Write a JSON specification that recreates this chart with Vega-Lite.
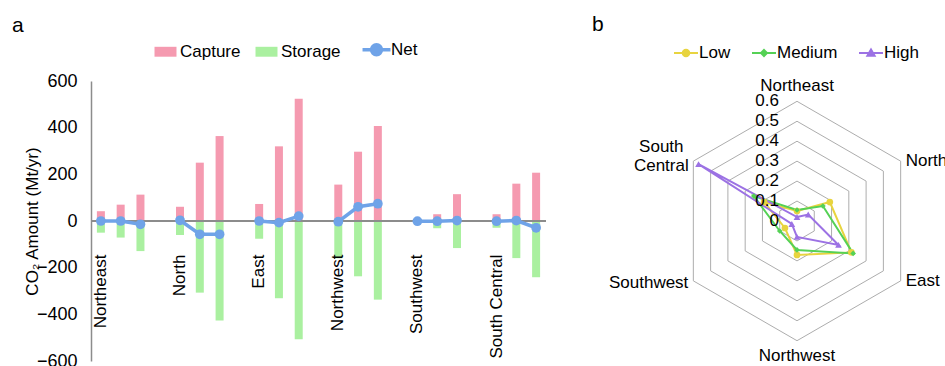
{
  "$schema": "https://vega.github.io/schema/vega-lite/v6.json",
  "background": "white",
  "padding": {"left": 12, "top": 14, "right": 0, "bottom": 0},
  "config": {
    "view": {"stroke": null},
    "font": "Liberation Sans",
    "title": {"font": "Liberation Sans", "fontWeight": "normal", "color": "#000"}
  },
  "datasets": {
    "bars": [
      {"region": "Northeast", "scenario": "Low", "Capture": 42, "Storage": -50, "Net": 0},
      {"region": "Northeast", "scenario": "Medium", "Capture": 70, "Storage": -71, "Net": 0},
      {"region": "Northeast", "scenario": "High", "Capture": 113, "Storage": -129, "Net": -14},
      {"region": "North", "scenario": "Low", "Capture": 61, "Storage": -60, "Net": 3},
      {"region": "North", "scenario": "Medium", "Capture": 250, "Storage": -307, "Net": -57},
      {"region": "North", "scenario": "High", "Capture": 364, "Storage": -426, "Net": -57},
      {"region": "East", "scenario": "Low", "Capture": 73, "Storage": -76, "Net": 0},
      {"region": "East", "scenario": "Medium", "Capture": 320, "Storage": -331, "Net": -7},
      {"region": "East", "scenario": "High", "Capture": 524, "Storage": -507, "Net": 21},
      {"region": "Northwest", "scenario": "Low", "Capture": 156, "Storage": -160, "Net": -3},
      {"region": "Northwest", "scenario": "Medium", "Capture": 297, "Storage": -237, "Net": 61},
      {"region": "Northwest", "scenario": "High", "Capture": 407, "Storage": -337, "Net": 74},
      {"region": "Southwest", "scenario": "Low", "Capture": 0, "Storage": 0, "Net": -1},
      {"region": "Southwest", "scenario": "Medium", "Capture": 29, "Storage": -31, "Net": -1},
      {"region": "Southwest", "scenario": "High", "Capture": 115, "Storage": -116, "Net": 2},
      {"region": "South Central", "scenario": "Low", "Capture": 29, "Storage": -29, "Net": -1},
      {"region": "South Central", "scenario": "Medium", "Capture": 160, "Storage": -159, "Net": 2},
      {"region": "South Central", "scenario": "High", "Capture": 207, "Storage": -241, "Net": -29}
    ],
    "radar": [
      {"region": "Northeast", "scenario": "Low", "share": 0.05},
      {"region": "North", "scenario": "Low", "share": 0.19},
      {"region": "East", "scenario": "Low", "share": 0.315},
      {"region": "Northwest", "scenario": "Low", "share": 0.17},
      {"region": "Southwest", "scenario": "Low", "share": 0.07},
      {"region": "South Central", "scenario": "Low", "share": 0.19},
      {"region": "Northeast", "scenario": "Medium", "share": 0.055},
      {"region": "North", "scenario": "Medium", "share": 0.15},
      {"region": "East", "scenario": "Medium", "share": 0.325},
      {"region": "Northwest", "scenario": "Medium", "share": 0.145},
      {"region": "Southwest", "scenario": "Medium", "share": 0.1},
      {"region": "South Central", "scenario": "Medium", "share": 0.25},
      {"region": "Northeast", "scenario": "High", "share": 0.02},
      {"region": "North", "scenario": "High", "share": 0.065},
      {"region": "East", "scenario": "High", "share": 0.24},
      {"region": "Northwest", "scenario": "High", "share": 0.08},
      {"region": "Southwest", "scenario": "High", "share": 0.03},
      {"region": "South Central", "scenario": "High", "share": 0.57}
    ],
    "dirs": [
      {"region": "Northeast", "levels": [0.1, 0.2, 0.3, 0.4, 0.5, 0.6]},
      {"region": "North", "levels": [0.1, 0.2, 0.3, 0.4, 0.5, 0.6]},
      {"region": "East", "levels": [0.1, 0.2, 0.3, 0.4, 0.5, 0.6]},
      {"region": "Northwest", "levels": [0.1, 0.2, 0.3, 0.4, 0.5, 0.6]},
      {"region": "Southwest", "levels": [0.1, 0.2, 0.3, 0.4, 0.5, 0.6]},
      {"region": "South Central", "levels": [0.1, 0.2, 0.3, 0.4, 0.5, 0.6]}
    ],
    "rticks": [{"v": 0}, {"v": 0.1}, {"v": 0.2}, {"v": 0.3}, {"v": 0.4}, {"v": 0.5}, {"v": 0.6}]
  },
  "spacing": 45,
  "resolve": {"scale": {"color": "independent", "x": "independent", "y": "independent"}, "legend": {"color": "independent"}},
  "hconcat": [
    {
      "width": 455,
      "height": 280,
      "title": {"text": "a", "anchor": "start", "frame": "group", "fontSize": 21, "dx": -79, "dy": 1, "offset": 6},
      "data": {"name": "bars"},
      "layer": [
        {
          "transform": [{"fold": ["Capture", "Storage"], "as": ["series", "value"]}],
          "mark": {"type": "bar", "width": 8},
          "encoding": {
            "x": {"field": "region", "type": "nominal", "sort": null, "scale": {"domain": ["Northeast", "North", "East", "Northwest", "Southwest", "South Central"], "paddingInner": 0.25, "paddingOuter": 0}, "axis": null},
            "xOffset": {"field": "scenario", "type": "nominal", "scale": {"domain": ["Low", "Medium", "High"], "paddingInner": 0, "paddingOuter": 0}},
            "y": {"field": "value", "type": "quantitative", "stack": null, "scale": {"domain": [-600, 600], "nice": false},
              "axis": {"values": [-600, -400, -200, 0, 200, 400, 600], "ticks": false, "grid": false, "domainColor": "#8c8c8c", "domainWidth": 1.5, "labelFontSize": 18, "labelColor": "#000", "labelPadding": 14, "title": "CO₂ Amount (Mt/yr)", "titleFontSize": 17, "titleFontWeight": "normal", "titleColor": "#000", "titlePadding": -5}},
            "color": {"field": "series", "type": "nominal", "scale": {"domain": ["Capture", "Storage", "Net"], "range": ["#F59AB0", "#AAF0A0", "#6FA3E8"]},
              "legend": {"orient": "none", "legendX": 66, "legendY": -40, "direction": "horizontal", "title": null, "labelFontSize": 17, "labelColor": "#000", "symbolSize": 484, "labelOffset": 6, "columnPadding": 14, "padding": 0,
                "encode": {"symbols": {"update": {
                  "shape": {"signal": "datum.value === 'Net' ? 'M-1.27,0H1.27M0.45,0A0.45,0.45,0,1,1,-0.45,0A0.45,0.45,0,1,1,0.45,0' : 'M-1,-0.45H1V0.45H-1Z'"},
                  "fill": {"signal": "datum.value === 'Net' ? '#6FA3E8' : datum.value === 'Capture' ? '#F59AB0' : '#AAF0A0'"},
                  "stroke": {"signal": "datum.value === 'Net' ? '#6FA3E8' : 'transparent'"},
                  "strokeWidth": {"signal": "datum.value === 'Net' ? 3.5 : 0"},
                  "opacity": {"value": 1}
                }}}}}
          }
        },
        {
          "mark": {"type": "rule", "color": "#8c8c8c", "strokeWidth": 1.5},
          "encoding": {"y": {"datum": 0, "type": "quantitative", "scale": {"domain": [-600, 600], "nice": false}}}
        },
        {
          "mark": {"type": "line", "strokeWidth": 3.5, "color": "#6FA3E8", "point": {"filled": true, "size": 95, "color": "#6FA3E8"}},
          "encoding": {
            "x": {"field": "region", "type": "nominal", "sort": null, "scale": {"domain": ["Northeast", "North", "East", "Northwest", "Southwest", "South Central"], "paddingInner": 0.25, "paddingOuter": 0}, "axis": null},
            "xOffset": {"field": "scenario", "type": "nominal", "scale": {"domain": ["Low", "Medium", "High"], "paddingInner": 0, "paddingOuter": 0}},
            "y": {"field": "Net", "type": "quantitative", "scale": {"domain": [-600, 600], "nice": false}},
            "detail": {"field": "region"}
          }
        },
        {
          "transform": [{"filter": "datum.scenario === 'Low'"}],
          "mark": {"type": "text", "angle": 270, "align": "right", "baseline": "middle", "fontSize": 17, "color": "#000"},
          "encoding": {
            "x": {"field": "region", "type": "nominal", "sort": null, "scale": {"domain": ["Northeast", "North", "East", "Northwest", "Southwest", "South Central"], "paddingInner": 0.25, "paddingOuter": 0}, "axis": null},
            "xOffset": {"field": "scenario", "type": "nominal", "scale": {"domain": ["Low", "Medium", "High"], "paddingInner": 0, "paddingOuter": 0}},
            "y": {"datum": -144, "type": "quantitative", "scale": {"domain": [-600, 600], "nice": false}},
            "text": {"field": "region"}
          }
        }
      ]
    },
    {
      "width": 280,
      "height": 280,
      "title": {"text": "b", "anchor": "start", "frame": "group", "fontSize": 21, "dx": -65, "dy": 1, "offset": 6},
      "layer": [
        {
          "data": {"name": "dirs"},
          "transform": [
            {"flatten": ["levels"], "as": ["level"]},
            {"calculate": "indexof(['Northeast','North','East','Northwest','Southwest','South Central'], datum.region)", "as": "k"},
            {"calculate": "datum.level * sin(datum.k * PI / 3)", "as": "px"},
            {"calculate": "datum.level * cos(datum.k * PI / 3)", "as": "py"}
          ],
          "mark": {"type": "line", "interpolate": "linear-closed", "color": "#ADADAD", "strokeWidth": 1},
          "encoding": {
            "x": {"field": "px", "type": "quantitative", "scale": {"domain": [-0.7018, 0.7018], "nice": false, "zero": false}, "axis": null},
            "y": {"field": "py", "type": "quantitative", "scale": {"domain": [-0.7018, 0.7018], "nice": false, "zero": false}, "axis": null},
            "detail": {"field": "level"},
            "order": {"field": "k"}
          }
        },
        {
          "data": {"name": "radar"},
          "transform": [
            {"calculate": "indexof(['Northeast','North','East','Northwest','Southwest','South Central'], datum.region)", "as": "k"},
            {"calculate": "datum.share * sin(datum.k * PI / 3)", "as": "px"},
            {"calculate": "datum.share * cos(datum.k * PI / 3)", "as": "py"}
          ],
          "mark": {"type": "line", "interpolate": "linear-closed", "strokeWidth": 2},
          "encoding": {
            "x": {"field": "px", "type": "quantitative", "scale": {"domain": [-0.7018, 0.7018], "nice": false, "zero": false}, "axis": null},
            "y": {"field": "py", "type": "quantitative", "scale": {"domain": [-0.7018, 0.7018], "nice": false, "zero": false}, "axis": null},
            "order": {"field": "k"},
            "color": {"field": "scenario", "type": "nominal", "scale": {"domain": ["Low", "Medium", "High"], "range": ["#E8D43F", "#55D155", "#9C72E4"]},
              "legend": {"orient": "none", "legendX": 16, "legendY": -41, "direction": "horizontal", "title": null, "labelFontSize": 17, "labelColor": "#000", "symbolSize": 576, "labelOffset": 0, "columnPadding": 17, "padding": 0,
                "encode": {"symbols": {"update": {
                  "shape": {"signal": "datum.value === 'Low' ? 'M-1,0H1M0.27,0A0.27,0.27,0,1,1,-0.27,0A0.27,0.27,0,1,1,0.27,0' : datum.value === 'Medium' ? 'M-1,0H1M0,-0.25L0.25,0L0,0.25L-0.25,0Z' : 'M-1,0H1M0,-0.3L0.3,0.22L-0.3,0.22Z'"},
                  "fill": {"signal": "datum.value === 'Low' ? '#E8D43F' : datum.value === 'Medium' ? '#55D155' : '#9C72E4'"},
                  "stroke": {"signal": "datum.value === 'Low' ? '#E8D43F' : datum.value === 'Medium' ? '#55D155' : '#9C72E4'"},
                  "strokeWidth": {"value": 2},
                  "opacity": {"value": 1}
                }}}}}
          }
        },
        {
          "data": {"name": "radar"},
          "transform": [
            {"filter": "datum.scenario === 'Low'"},
            {"calculate": "indexof(['Northeast','North','East','Northwest','Southwest','South Central'], datum.region)", "as": "k"},
            {"calculate": "datum.share * sin(datum.k * PI / 3)", "as": "px"},
            {"calculate": "datum.share * cos(datum.k * PI / 3)", "as": "py"}
          ],
          "mark": {"type": "point", "filled": true, "opacity": 1, "shape": "circle", "size": 45, "color": "#E8D43F"},
          "encoding": {
            "x": {"field": "px", "type": "quantitative", "scale": {"domain": [-0.7018, 0.7018], "nice": false, "zero": false}, "axis": null},
            "y": {"field": "py", "type": "quantitative", "scale": {"domain": [-0.7018, 0.7018], "nice": false, "zero": false}, "axis": null}
          }
        },
        {
          "data": {"name": "radar"},
          "transform": [
            {"filter": "datum.scenario === 'Medium'"},
            {"calculate": "indexof(['Northeast','North','East','Northwest','Southwest','South Central'], datum.region)", "as": "k"},
            {"calculate": "datum.share * sin(datum.k * PI / 3)", "as": "px"},
            {"calculate": "datum.share * cos(datum.k * PI / 3)", "as": "py"}
          ],
          "mark": {"type": "point", "filled": true, "opacity": 1, "shape": "diamond", "size": 32, "color": "#55D155"},
          "encoding": {
            "x": {"field": "px", "type": "quantitative", "scale": {"domain": [-0.7018, 0.7018], "nice": false, "zero": false}, "axis": null},
            "y": {"field": "py", "type": "quantitative", "scale": {"domain": [-0.7018, 0.7018], "nice": false, "zero": false}, "axis": null}
          }
        },
        {
          "data": {"name": "radar"},
          "transform": [
            {"filter": "datum.scenario === 'High'"},
            {"calculate": "indexof(['Northeast','North','East','Northwest','Southwest','South Central'], datum.region)", "as": "k"},
            {"calculate": "datum.share * sin(datum.k * PI / 3)", "as": "px"},
            {"calculate": "datum.share * cos(datum.k * PI / 3)", "as": "py"}
          ],
          "mark": {"type": "point", "filled": true, "opacity": 1, "shape": "triangle-up", "size": 45, "color": "#9C72E4"},
          "encoding": {
            "x": {"field": "px", "type": "quantitative", "scale": {"domain": [-0.7018, 0.7018], "nice": false, "zero": false}, "axis": null},
            "y": {"field": "py", "type": "quantitative", "scale": {"domain": [-0.7018, 0.7018], "nice": false, "zero": false}, "axis": null}
          }
        },
        {
          "data": {"name": "rticks"},
          "mark": {"type": "text", "align": "right", "baseline": "middle", "dx": -18, "fontSize": 17, "color": "#000"},
          "encoding": {
            "x": {"datum": 0, "type": "quantitative", "scale": {"domain": [-0.7018, 0.7018], "nice": false, "zero": false}},
            "y": {"field": "v", "type": "quantitative", "scale": {"domain": [-0.7018, 0.7018], "nice": false, "zero": false}},
            "text": {"field": "v", "format": ".1~f"}
          }
        },
        {
          "data": {"name": "dirs"},
          "transform": [
            {"filter": "datum.region === 'Northeast' || datum.region === 'Northwest'"},
            {"calculate": "indexof(['Northeast','North','East','Northwest','Southwest','South Central'], datum.region)", "as": "k"},
            {"calculate": "0.675 * sin(datum.k * PI / 3)", "as": "px"},
            {"calculate": "0.675 * cos(datum.k * PI / 3)", "as": "py"}
          ],
          "mark": {"type": "text", "align": "center", "baseline": "middle", "fontSize": 17, "color": "#000"},
          "encoding": {
            "x": {"field": "px", "type": "quantitative", "scale": {"domain": [-0.7018, 0.7018], "nice": false, "zero": false}},
            "y": {"field": "py", "type": "quantitative", "scale": {"domain": [-0.7018, 0.7018], "nice": false, "zero": false}},
            "text": {"field": "region"}
          }
        },
        {
          "data": {"name": "dirs"},
          "transform": [
            {"filter": "datum.region === 'North' || datum.region === 'East'"},
            {"calculate": "indexof(['Northeast','North','East','Northwest','Southwest','South Central'], datum.region)", "as": "k"},
            {"calculate": "0.6 * sin(datum.k * PI / 3)", "as": "px"},
            {"calculate": "0.6 * cos(datum.k * PI / 3)", "as": "py"}
          ],
          "mark": {"type": "text", "align": "left", "baseline": "middle", "dx": 5, "fontSize": 17, "color": "#000"},
          "encoding": {
            "x": {"field": "px", "type": "quantitative", "scale": {"domain": [-0.7018, 0.7018], "nice": false, "zero": false}},
            "y": {"field": "py", "type": "quantitative", "scale": {"domain": [-0.7018, 0.7018], "nice": false, "zero": false}},
            "text": {"field": "region"}
          }
        },
        {
          "data": {"name": "dirs"},
          "transform": [
            {"filter": "datum.region === 'Southwest'"},
            {"calculate": "indexof(['Northeast','North','East','Northwest','Southwest','South Central'], datum.region)", "as": "k"},
            {"calculate": "0.6 * sin(datum.k * PI / 3)", "as": "px"},
            {"calculate": "0.6 * cos(datum.k * PI / 3)", "as": "py"}
          ],
          "mark": {"type": "text", "align": "right", "baseline": "middle", "dx": -5, "dy": 2, "fontSize": 17, "color": "#000"},
          "encoding": {
            "x": {"field": "px", "type": "quantitative", "scale": {"domain": [-0.7018, 0.7018], "nice": false, "zero": false}},
            "y": {"field": "py", "type": "quantitative", "scale": {"domain": [-0.7018, 0.7018], "nice": false, "zero": false}},
            "text": {"field": "region"}
          }
        },
        {
          "data": {"name": "dirs"},
          "transform": [
            {"filter": "datum.region === 'South Central'"},
            {"calculate": "indexof(['Northeast','North','East','Northwest','Southwest','South Central'], datum.region)", "as": "k"},
            {"calculate": "0.6 * sin(datum.k * PI / 3)", "as": "px"},
            {"calculate": "0.6 * cos(datum.k * PI / 3)", "as": "py"}
          ],
          "mark": {"type": "text", "align": "center", "baseline": "middle", "dx": -32, "dy": -14.5, "fontSize": 17, "lineBreak": " ", "lineHeight": 19, "color": "#000"},
          "encoding": {
            "x": {"field": "px", "type": "quantitative", "scale": {"domain": [-0.7018, 0.7018], "nice": false, "zero": false}},
            "y": {"field": "py", "type": "quantitative", "scale": {"domain": [-0.7018, 0.7018], "nice": false, "zero": false}},
            "text": {"field": "region"}
          }
        }
      ]
    }
  ]
}
